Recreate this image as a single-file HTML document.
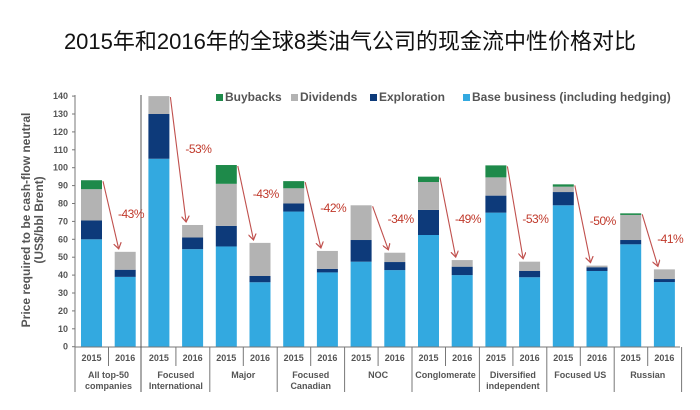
<!DOCTYPE html>
<html><head><meta charset="utf-8"><style>
body{margin:0;background:#fff;width:700px;height:405px;overflow:hidden}
svg text{font-family:"Liberation Sans","Noto Sans CJK SC",sans-serif}
</style></head><body>
<svg width="700" height="405" viewBox="0 0 700 405" xmlns="http://www.w3.org/2000/svg">
<defs><marker id="ah" markerWidth="8" markerHeight="8" refX="6" refY="4" orient="auto" markerUnits="userSpaceOnUse"><path d="M0,0 L6,4 L0,8" fill="none" stroke="#c0504d" stroke-width="1.2"/></marker></defs>
<text x="350" y="49" text-anchor="middle" font-size="22" fill="#111">2015年和2016年的全球8类油气公司的现金流中性价格对比</text>
<g font-size="12" font-weight="bold" fill="#555">
<rect x="216" y="94" width="7" height="7" fill="#1e8a4a"/><text x="225" y="101">Buybacks</text>
<rect x="291" y="94" width="7" height="7" fill="#b3b3b3"/><text x="300" y="101">Dividends</text>
<rect x="370" y="94" width="7" height="7" fill="#0d3a7a"/><text x="379" y="101">Exploration</text>
<rect x="463" y="94" width="7" height="7" fill="#33a9e0"/><text x="472" y="101">Base business (including hedging)</text>
</g>
<g font-size="12" font-weight="bold" fill="#555" text-anchor="middle">
<text transform="translate(30,220) rotate(-90)">Price required to be cash-flow neutral</text>
<text transform="translate(43,220) rotate(-90)">(US$/bbl Brent)</text>
</g>
<g id="ticks" font-size="9" font-weight="bold" fill="#555" text-anchor="end"></g>
<g id="bars"></g>
<line x1="75" y1="95" x2="75" y2="347" stroke="#777"/>
<line x1="75" y1="347" x2="680" y2="347" stroke="#777"/>
<line x1="141" y1="95" x2="141" y2="392" stroke="#555"/>
<g id="xl" font-size="9" font-weight="bold" fill="#555" text-anchor="middle"></g>
<g id="arr"></g>
</svg>
<script>
const ns="http://www.w3.org/2000/svg";
function el(p,t,a,txt){const e=document.createElementNS(ns,t);for(const k in a)e.setAttribute(k,a[k]);if(txt!==undefined)e.textContent=txt;document.getElementById(p).appendChild(e);return e;}
const Y=v=>346.7-v*1.79;
for(let v=0;v<=140;v+=10){el("ticks","text",{x:68,y:Y(v)+3},v);el("ticks","line",{x1:72,x2:75,y1:Y(v),y2:Y(v),stroke:"#777"});}
const d=[[60,70.5,88,93],[39,43,53,53],[105,130,140,140],[54.5,61,68,68],[56,67.5,91,101.5],[36,39.5,58,58],[75.5,80,88.5,92.5],[41.5,43.5,53.5,53.5],[47.5,59.6,79,79],[42.8,47.3,52.5,52.5],[62.4,76.4,92,95],[40,44.7,48.4,48.4],[74.9,84.4,94.6,101.3],[38.8,42.3,47.5,47.5],[79,86.4,89.4,90.7],[42.3,44.4,45.3,45.3],[57.2,59.6,73.6,74.5],[36.1,37.8,43.2,43.2]];
const c=["#33a9e0","#0d3a7a","#b3b3b3","#1e8a4a"];
const L=i=>81+33.7*i;
d.forEach((b,i)=>{let p=0;b.forEach((v,k)=>{if(v>p){el("bars","rect",{x:L(i),y:Y(v),width:21,height:Y(p)-Y(v),fill:c[k]});}p=v;});
el("xl","text",{x:L(i)+10.5,y:361},i%2?"2016":"2015");
if(i%2==0){el("xl","line",{x1:L(i)+27.5,x2:L(i)+27.5,y1:347,y2:366,stroke:"#777"});}
});
for(let g=0;g<=9;g++){const x=L(2*g)-6;if(g!=1)el("xl","line",{x1:x,x2:x,y1:347,y2:392,stroke:"#777"});}
const cat=[["All top-50","companies"],["Focused","International"],["Major"],["Focused","Canadian"],["NOC"],["Conglomerate"],["Diversified","independent"],["Focused US"],["Russian"]];
cat.forEach((t,g)=>{const x=L(2*g)+27.5;t.forEach((s,j)=>el("xl","text",{x:x,y:378+j*11},s));});
const pct=["-43%","-53%","-43%","-42%","-34%","-49%","-53%","-50%","-41%"];
const py=[218,153,198,212,223,223,223,225,243];
for(let g=0;g<9;g++){const a=d[2*g],b=d[2*g+1];
el("arr","line",{x1:L(2*g)+22,y1:Y(Math.min(a[3],140))+1,x2:L(2*g+1)+4,y2:Y(b[3])-3,stroke:"#c0504d","stroke-width":1.1,"marker-end":"url(#ah)"});
el("arr","text",{x:L(2*g)+37,y:py[g],"font-size":12,fill:"#c0392b","letter-spacing":"-0.5"},pct[g]);}
</script>
</body></html>
